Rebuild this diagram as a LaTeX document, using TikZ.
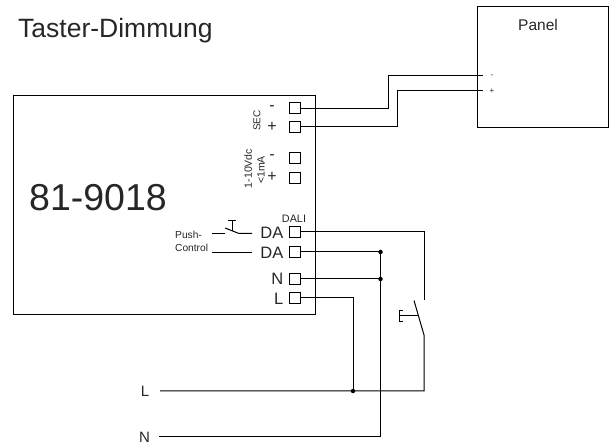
\documentclass[tikz,border=0pt]{standalone}
\usepackage{fontspec}
\setmainfont{Liberation Sans}
\newcommand{\fs}[1]{\fontsize{#1}{#1}\selectfont}
\tikzset{
  box/.style={draw,line width=1pt,anchor=north west,inner sep=0pt},
  term/.style={draw,line width=1pt,minimum size=11pt,inner sep=0pt},
  wire/.style={line width=1pt},
  lbl/.style={inner sep=0pt,text=black!85},
  dot/.style={circle,fill=black,inner sep=0pt,minimum size=4.5pt}
}
\begin{document}
\begin{tikzpicture}[x=1pt,y=-1pt]
        \useasboundingbox (0,0) rectangle (611,446);
        \node[box,minimum width=302pt,minimum height=219pt] (unit) at (13,95.5) {};
        \node[box,minimum width=131pt,minimum height=121pt] (panel) at (477,6) {};
        \node[lbl,anchor=base west] (title) at (18,38) {\fs{26.5}Taster-Dimmung};
        \node[lbl,anchor=west] (type) at (29,198) {\fs{37.5}81-9018};
        \node[lbl] (paneltext) at (538,24.5) {\fs{15.5}Panel};
        \foreach \Name/\Y in {secm/108.5, secp/127, dimm/158.5, dimp/178, daa/232, dab/252, termn/279, terml/298}
        \node[term] (\Name) at (294.5,\Y) {};
        \foreach \Name/\Y/\Text in {secmt/108/-, secpt/127/+, dimmt/157/-, dimpt/177/+}
        \node[lbl] (\Name) at (272,\Y) {\fs{16}\Text};
        \node[lbl,rotate=90] (sectext) at (257,120.5) {\fs{10}SEC};
        \node[lbl,rotate=90] (dimtext) at (248,168.5) {\fs{10.5}1-10Vdc};
        \node[lbl,rotate=90] (matext) at (261,170) {\fs{10.5}<1mA};
        \node[lbl] (dalitext) at (294,219) {\fs{10.8}DALI};
        \foreach \Name/\Y/\Text in {dat/233/DA, dbt/253/DA, nt/279/N, lt/299/L}
        \node[lbl,anchor=east] (\Name) at (283.5,\Y) {\fs{16.5}\Text};
        \node[lbl,anchor=west] (pusht) at (175,235) {\fs{10.2}Push-};
        \node[lbl,anchor=west] (controlt) at (175,248) {\fs{10.2}Control};
        \node[lbl] (panelm) at (492,76) {\fs{8}-};
        \node[lbl] (panelp) at (492,91) {\fs{8}+};
        \node[lbl] (linel) at (145,391.5) {\fs{15}L};
        \node[lbl] (linen) at (144.5,437.5) {\fs{15}N};
        \coordinate (endm) at (483,76);
        \coordinate (endp) at (483,91);
        \coordinate (bendm) at (388,76);
        \coordinate (bendp) at (397,91);
        \draw[wire] (secm.east) -| (bendm) -- (endm);
        \draw[wire] (secp.east) -| (bendp) -- (endp);
        \coordinate (startl) at (160,391);
        \coordinate (startn) at (159,436.5);
        \coordinate (cornn) at (380.5,436.5);
        \coordinate (corne) at (424,391);
        \coordinate (swtop) at (424,300);
        \coordinate (swbot) at (424,335);
        \coordinate (swfree) at (414,300.5);
        \coordinate (topdot) at (380.5,252);
        \coordinate (middot) at (380.5,279);
        \coordinate (ldot) at (353,391);
        \draw[wire] (daa.east) -| (swtop);
        \draw[wire] (swfree) -- (swbot) -- (corne) -- (startl);
        \draw[wire] (dab.east) -- (topdot) -- (cornn) -- (startn);
        \draw[wire] (termn.east) -- (middot);
        \draw[wire] (terml.east) -| (ldot);
        \foreach \Point in {topdot, middot, ldot}
        \node[dot] at (\Point) {};
        \coordinate (armmid) at (418.5,316);
        \coordinate (armend) at (399,316);
        \draw[wire] (armmid) -- (armend);
        \draw[wire] (403,311) -- (399,311) -- (399,322) -- (403,322);
        \coordinate (pa) at (212,233.5);
        \coordinate (pb) at (225,233.5);
        \coordinate (pc) at (225,228);
        \coordinate (pd) at (239,233.5);
        \coordinate (pe) at (252,233.5);
        \draw[wire] (pa) -- (pb);
        \draw[wire] (pc) -- (pd) -- (pe);
        \coordinate (pf) at (232,231);
        \coordinate (pg) at (232,221);
        \draw[wire] (pf) -- (pg);
        \draw[wire] (228,221) -- (236,221);
        \coordinate (qa) at (212,253);
        \coordinate (qb) at (252,253);
        \draw[wire] (qa) -- (qb);
\end{tikzpicture}
\end{document}
